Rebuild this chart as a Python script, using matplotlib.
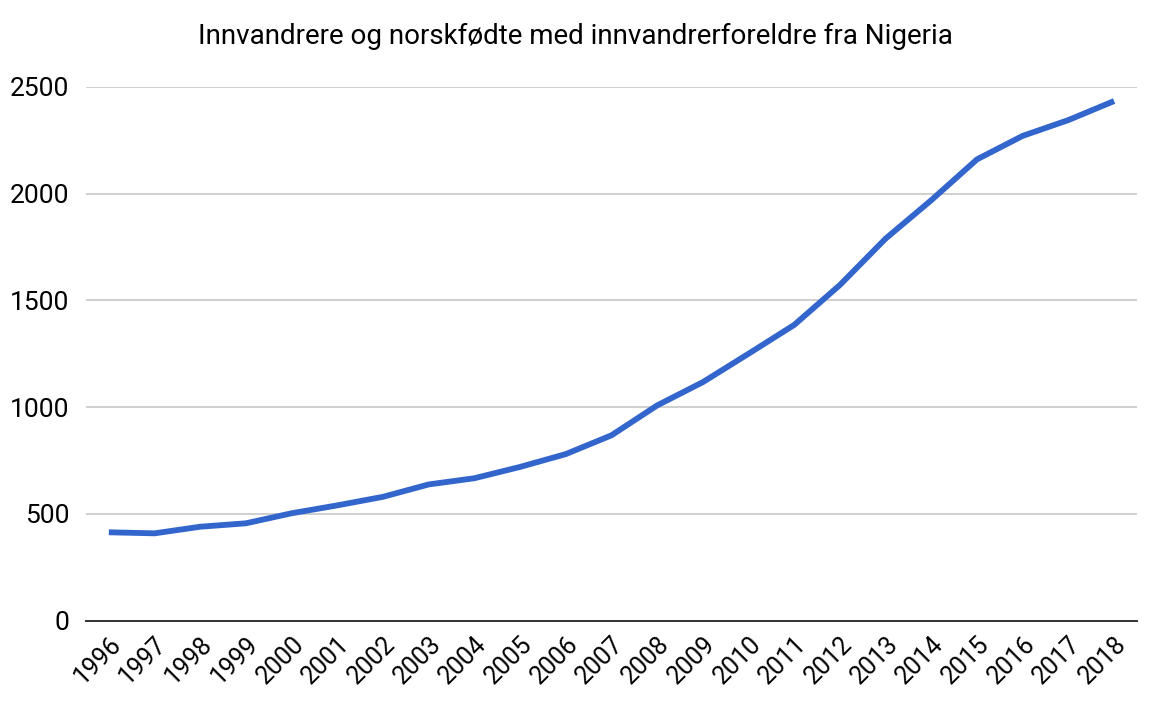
import matplotlib
matplotlib.use("Agg")
import matplotlib.pyplot as plt

plt.rcParams['font.family'] = ['Roboto', 'DejaVu Sans']

# Data
years = [str(y) for y in range(1996, 2019)]
persons = [414, 409, 440, 456, 503, 540, 580, 638, 667, 720, 780, 868,
           1008, 1117, 1250, 1385, 1572, 1789, 1969, 2160, 2270, 2344, 2433]
yticks = [0, 500, 1000, 1500, 2000, 2500]

fig = plt.figure(figsize=(11.51, 7.08), dpi=100)
ax = fig.add_axes([0.0747, 0.1233, 0.9131, 0.7542])

x = list(range(len(years)))
ax.plot(x, persons, color='#3366CC', lw=4.2, solid_joinstyle='miter',
        solid_capstyle='butt', clip_on=False, zorder=3)

ax.set_xlim(-0.5, len(years) - 0.5)
ax.set_ylim(0, 2500)
ax.set_yticks(yticks)
ax.set_yticklabels([str(v) for v in yticks], fontsize=19)
ax.set_xticks(x)
ax.set_xticklabels(years, rotation=45, ha='right', rotation_mode='anchor',
                   fontsize=18)
ax.tick_params(axis='both', length=0, colors='black')
ax.tick_params(axis='y', pad=12)
ax.tick_params(axis='x', pad=8)

ax.grid(axis='y', color='#cccccc', lw=1.3)
ax.set_axisbelow(True)
for side in ['top', 'right', 'left']:
    ax.spines[side].set_visible(False)
ax.spines['bottom'].set_color('#333333')
ax.spines['bottom'].set_linewidth(1.4)
ax.spines['bottom'].set_zorder(4)

fig.text(0.5, 0.948, 'Innvandrere og norskfødte med innvandrerforeldre fra Nigeria',
         ha='center', va='center', fontsize=20)

fig.savefig('out.png', dpi=100)
